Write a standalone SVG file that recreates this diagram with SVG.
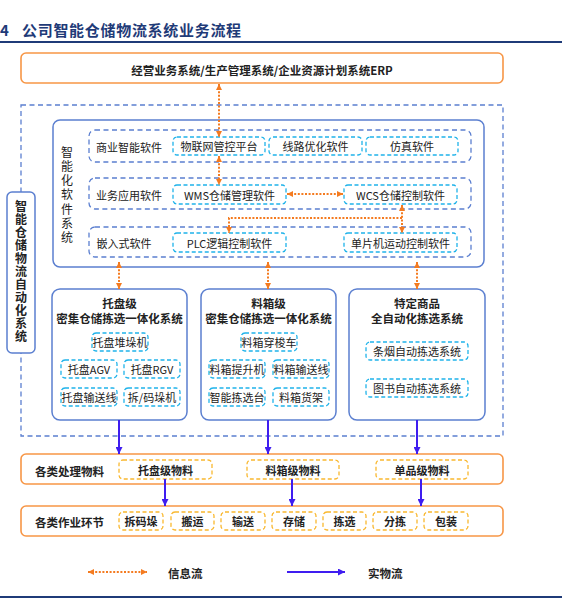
<svg xmlns="http://www.w3.org/2000/svg" width="562" height="606" viewBox="0 0 562 606">
<style>
text{font-family:"Noto Sans CJK SC","Liberation Sans",sans-serif;fill:#222;dominant-baseline:central;font-size:11px}
.c{text-anchor:middle}
.t{font-size:11.5px;font-weight:bold}
.v{writing-mode:vertical-rl;text-anchor:middle;font-size:12px}
.orng{fill:#fff;stroke:#f79646;stroke-width:1.6}
.blue{fill:#fff;stroke:#5b7fd0;stroke-width:1.5}
.bdash{fill:none;stroke:#5b7fd0;stroke-width:1.3;stroke-dasharray:5,3.5}
.cyan{fill:#fff;stroke:#1fb3ea;stroke-width:1.3;stroke-dasharray:4,2.5}
.yel{fill:#fff;stroke:#f9b82f;stroke-width:1.3;stroke-dasharray:4,2.5}
.info{fill:none;stroke:#f47b20;stroke-width:2;stroke-dasharray:2,1.6;marker-start:url(#oa);marker-end:url(#oa)}
.info1{fill:none;stroke:#f47b20;stroke-width:2;stroke-dasharray:2,1.6;marker-end:url(#oa)}
.phys{fill:none;stroke:#3f1df0;stroke-width:2;marker-end:url(#pa)}
</style>
<defs>
<marker id="oa" viewBox="0 0 6 6" refX="6" refY="3" markerWidth="6" markerHeight="6" markerUnits="userSpaceOnUse" orient="auto-start-reverse"><path d="M0,0 L6,3 L0,6 z" fill="#f47b20"/></marker>
<marker id="pa" viewBox="0 0 7 7" refX="7" refY="3.5" markerWidth="7" markerHeight="7" markerUnits="userSpaceOnUse" orient="auto"><path d="M0,0 L7,3.5 L0,7 z" fill="#3f1df0"/></marker>
</defs>
<rect width="562" height="606" fill="#fff"/>
<g id="title">
<text x="0" y="29" style="font-size:15px;font-weight:bold;fill:#1f3b78">4</text>
<text x="22" y="29" style="font-size:15px;font-weight:bold;fill:#1f3b78;letter-spacing:0.7px">公司智能仓储物流系统业务流程</text>
<line x1="0" y1="42" x2="562" y2="42" stroke="#1f3b78" stroke-width="2"/>
<line x1="0" y1="597" x2="562" y2="597" stroke="#1f3b78" stroke-width="2"/>
</g>
<g id="erp">
<rect class="orng" x="21" y="53" width="482" height="30" rx="5"/>
<text class="c t" x="262" y="70">经营业务系统/生产管理系统/企业资源计划系统ERP</text>
</g>
<g id="automation">
<rect class="bdash" x="21" y="105" width="482" height="331"/>
<rect class="blue" x="7" y="192" width="28" height="161" rx="5"/>
<text class="v" x="21" y="272" style="font-weight:bold;letter-spacing:1px">智能仓储物流自动化系统</text>
</g>
<g id="software">
<rect class="blue" x="53" y="120" width="431" height="147" rx="7"/>
<text class="v" x="67" y="196" style="letter-spacing:2.2px">智能化软件系统</text>
</g>
<g id="row-bi">
<rect class="bdash" x="89" y="130" width="382" height="32" rx="6"/>
<text class="c" x="129" y="147">商业智能软件</text>
<rect class="cyan" x="173" y="137" width="92" height="18" rx="4"/>
<text class="c" x="219" y="146">物联网管控平台</text>
<rect class="cyan" x="269" y="137" width="93" height="18" rx="4"/>
<text class="c" x="315.5" y="146">线路优化软件</text>
<rect class="cyan" x="366" y="137" width="92" height="18" rx="4"/>
<text class="c" x="412" y="146">仿真软件</text>
</g>
<g id="row-app">
<rect class="bdash" x="89" y="178" width="382" height="31" rx="6"/>
<text class="c" x="129" y="195">业务应用软件</text>
<rect class="cyan" x="173" y="185" width="113" height="19" rx="4"/>
<text class="c" x="229.5" y="194.5">WMS仓储管理软件</text>
<rect class="cyan" x="344" y="185" width="113" height="19" rx="4"/>
<text class="c" x="400.5" y="194.5">WCS仓储控制软件</text>
</g>
<g id="row-emb">
<rect class="bdash" x="89" y="227" width="382" height="30" rx="6"/>
<text class="c" x="124" y="243">嵌入式软件</text>
<rect class="cyan" x="173" y="233" width="113" height="19" rx="4"/>
<text class="c" x="229.5" y="242.5">PLC逻辑控制软件</text>
<rect class="cyan" x="344" y="233" width="113" height="19" rx="4"/>
<text class="c" x="400.5" y="242.5">单片机运动控制软件</text>
</g>
<g id="pallet">
<rect class="blue" x="52" y="289" width="135" height="131" rx="8"/>
<text class="c t" x="119.5" y="303">托盘级</text>
<text class="c t" x="119.5" y="318">密集仓储拣选一体化系统</text>
<rect class="cyan" x="92" y="333" width="56" height="18" rx="4"/>
<text class="c" x="120" y="342">托盘堆垛机</text>
<rect class="cyan" x="61" y="360" width="56" height="18" rx="4"/>
<text class="c" x="89" y="369">托盘AGV</text>
<rect class="cyan" x="124" y="360" width="56" height="18" rx="4"/>
<text class="c" x="152" y="369">托盘RGV</text>
<rect class="cyan" x="61" y="388" width="56" height="18" rx="4"/>
<text class="c" x="89" y="397">托盘输送线</text>
<rect class="cyan" x="124" y="388" width="56" height="18" rx="4"/>
<text class="c" x="152" y="397">拆/码垛机</text>
</g>
<g id="bin">
<rect class="blue" x="201" y="289" width="135" height="131" rx="8"/>
<text class="c t" x="268.5" y="303">料箱级</text>
<text class="c t" x="268.5" y="318">密集仓储拣选一体化系统</text>
<rect class="cyan" x="241" y="333" width="56" height="18" rx="4"/>
<text class="c" x="269" y="342">料箱穿梭车</text>
<rect class="cyan" x="209" y="360" width="56" height="18" rx="4"/>
<text class="c" x="237" y="369">料箱提升机</text>
<rect class="cyan" x="273" y="360" width="56" height="18" rx="4"/>
<text class="c" x="301" y="369">料箱输送线</text>
<rect class="cyan" x="209" y="388" width="56" height="18" rx="4"/>
<text class="c" x="237" y="397">智能拣选台</text>
<rect class="cyan" x="273" y="388" width="56" height="18" rx="4"/>
<text class="c" x="301" y="397">料箱货架</text>
</g>
<g id="special">
<rect class="blue" x="349" y="289" width="136" height="131" rx="8"/>
<text class="c t" x="417" y="303">特定商品</text>
<text class="c t" x="417" y="318">全自动化拣选系统</text>
<rect class="cyan" x="366" y="342" width="102" height="18" rx="4"/>
<text class="c" x="417" y="351">条烟自动拣选系统</text>
<rect class="cyan" x="366" y="379" width="102" height="18" rx="4"/>
<text class="c" x="417" y="388">图书自动拣选系统</text>
</g>
<g id="materials">
<rect class="orng" x="21" y="454" width="482" height="30" rx="5"/>
<text class="t" x="35" y="471">各类处理物料</text>
<rect class="yel" x="119" y="460" width="93" height="19" rx="4"/>
<text class="c t" x="165.5" y="469.5" style="font-size:11px">托盘级物料</text>
<rect class="yel" x="247" y="460" width="92" height="19" rx="4"/>
<text class="c t" x="293" y="469.5" style="font-size:11px">料箱级物料</text>
<rect class="yel" x="376" y="460" width="92" height="19" rx="4"/>
<text class="c t" x="422" y="469.5" style="font-size:11px">单品级物料</text>
</g>
<g id="operations">
<rect class="orng" x="21" y="506" width="482" height="30" rx="5"/>
<text class="t" x="35" y="522">各类作业环节</text>
<rect class="yel" x="119" y="512" width="44" height="18" rx="4"/>
<text class="c t" x="141" y="521" style="font-size:11px">拆码垛</text>
<rect class="yel" x="171" y="512" width="43" height="18" rx="4"/>
<text class="c t" x="192.5" y="521" style="font-size:11px">搬运</text>
<rect class="yel" x="221" y="512" width="44" height="18" rx="4"/>
<text class="c t" x="243" y="521" style="font-size:11px">输送</text>
<rect class="yel" x="272" y="512" width="44" height="18" rx="4"/>
<text class="c t" x="294" y="521" style="font-size:11px">存储</text>
<rect class="yel" x="323" y="512" width="43" height="18" rx="4"/>
<text class="c t" x="344.5" y="521" style="font-size:11px">拣选</text>
<rect class="yel" x="373" y="512" width="44" height="18" rx="4"/>
<text class="c t" x="395" y="521" style="font-size:11px">分拣</text>
<rect class="yel" x="424" y="512" width="44" height="18" rx="4"/>
<text class="c t" x="446" y="521" style="font-size:11px">包装</text>
</g>
<g id="connectors">
<line class="info" x1="219" y1="84" x2="219" y2="137"/>
<line class="info" x1="219" y1="156" x2="219" y2="185"/>
<line class="info" x1="287" y1="194" x2="343" y2="194"/>
<line class="info" x1="402" y1="205" x2="402" y2="233"/>
<polyline class="info1" points="402,218 229,218 229,233"/>
<line class="info" x1="119" y1="262" x2="119" y2="289"/>
<line class="info" x1="268" y1="262" x2="268" y2="289"/>
<line class="info" x1="417" y1="262" x2="417" y2="289"/>
<line class="phys" x1="119" y1="420" x2="119" y2="454"/>
<line class="phys" x1="268" y1="420" x2="268" y2="454"/>
<line class="phys" x1="417" y1="420" x2="417" y2="454"/>
<line class="phys" x1="165" y1="479" x2="165" y2="506"/>
<line class="phys" x1="292" y1="479" x2="292" y2="506"/>
<line class="phys" x1="421" y1="479" x2="421" y2="506"/>
</g>
<g id="legend">
<line class="info" x1="88" y1="572" x2="147" y2="572"/>
<text class="t" x="168" y="573">信息流</text>
<line class="phys" x1="287" y1="572" x2="345" y2="572"/>
<text class="t" x="368" y="573">实物流</text>
</g>
</svg>
